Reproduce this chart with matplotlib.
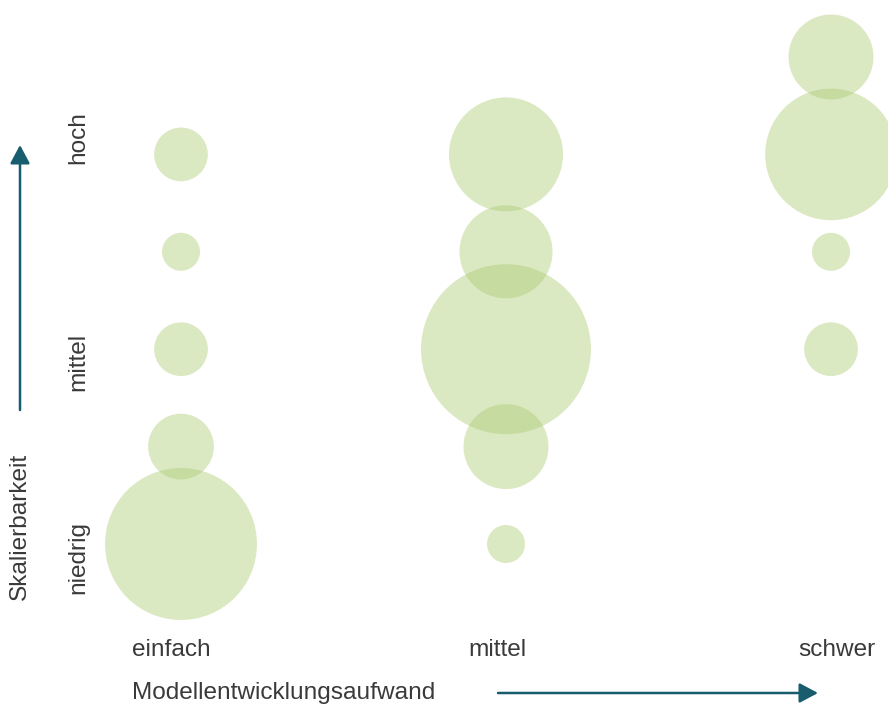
import numpy as np
import matplotlib
matplotlib.use("Agg")
import matplotlib.pyplot as plt
from matplotlib.patches import FancyArrowPatch

plt.rcParams['font.family'] = ['Liberation Sans', 'DejaVu Sans']

# Categories
aufwand_labels = ["einfach", "mittel", "schwer"]
skalierbarkeit_labels = ["niedrig", "mittel", "hoch"]

# Bubble data: effort category index, scalability level, relative weight (area)
einfach_level = [1, 2, 3, 4, 5]
einfach_weight = [16, 3, 2, 1, 2]
mittel_level = [1, 2, 3, 4, 5]
mittel_weight = [1, 5, 20, 6, 9]
schwer_level = [3, 4, 5, 6]
schwer_weight = [2, 1, 12, 5]

W, H, DPI = 888, 707, 100
fig = plt.figure(figsize=(W / DPI, H / DPI), dpi=DPI)
fig.patch.set_facecolor("white")

# Axes fills the figure; limits chosen so categories sit at their places
ax = fig.add_axes([0, 0, 1, 1])
x_px0, x_step = 181.0, 325.0
y_px1, y_step = 544.0, 97.4
ax.set_xlim(-x_px0 / x_step, (W - x_px0) / x_step)
ax.set_ylim(1 - (H - y_px1) / y_step, 1 + y_px1 / y_step)
ax.axis("off")

bubble_color = "#a7c869"
alpha = 0.4
unit_r_px = 19.0
unit_pt = 2 * unit_r_px * 72.0 / DPI  # diameter in points for weight 1

for xi, levels, weights in [(0, einfach_level, einfach_weight),
                            (1, mittel_level, mittel_weight),
                            (2, schwer_level, schwer_weight)]:
    w = np.array(weights, dtype=float)
    ax.scatter(np.full(len(levels), xi), levels, s=(unit_pt ** 2) * w,
               color=bubble_color, alpha=alpha, linewidths=0, zorder=2)

text_color = "#3a3a3a"
arrow_color = "#175d6e"
fs = 17.6


def fx(px):
    return px / W


def fy(py):
    return 1 - py / H


# Category labels along the bottom
for label, cx in zip(aufwand_labels, [171, 497.5, 836.5]):
    fig.text(fx(cx), fy(650), label, ha="center", va="center",
             fontsize=fs, color=text_color)

# Level labels along the left
for label, cy in zip(skalierbarkeit_labels, [557, 362, 138]):
    fig.text(fx(78), fy(cy), label, ha="center", va="center",
             rotation=90, fontsize=fs, color=text_color)

# Axis titles
fig.text(fx(132), fy(693), "Modellentwicklungsaufwand", ha="left",
         va="center", fontsize=fs, color=text_color)
fig.text(fx(20), fy(526), "Skalierbarkeit", ha="center", va="center",
         rotation=90, fontsize=fs, color=text_color)

# Direction arrows
for start, end in [((fx(20), fy(410)), (fx(20), fy(145))),
                   ((fx(498), fy(693)), (fx(818), fy(693)))]:
    arr = FancyArrowPatch(start, end, transform=fig.transFigure,
                          arrowstyle="-|>,head_length=0.75,head_width=0.4",
                          mutation_scale=15, color=arrow_color,
                          linewidth=1.8, shrinkA=0, shrinkB=0)
    fig.patches.append(arr)

fig.savefig("out.png", dpi=DPI, facecolor="white")
